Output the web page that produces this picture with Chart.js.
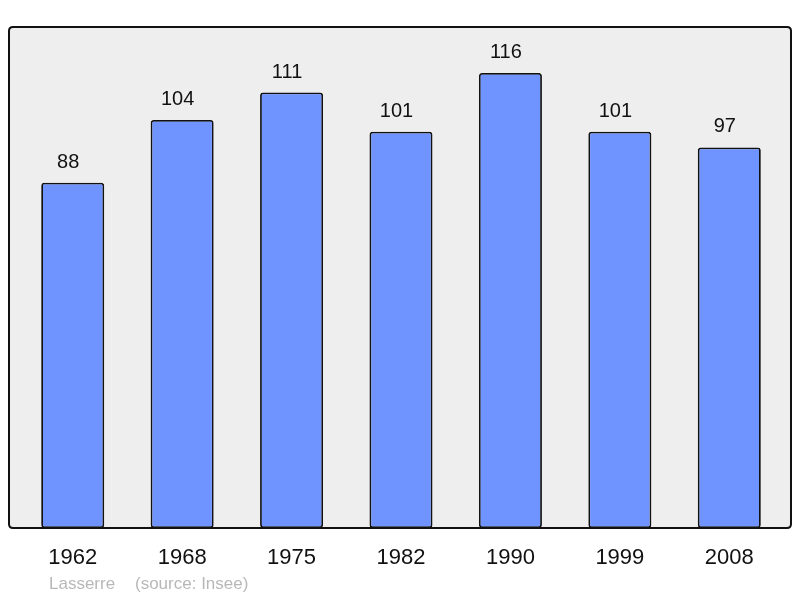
<!DOCTYPE html>
<html>
<head>
<meta charset="utf-8">
<script src="https://cdn.jsdelivr.net/npm/chart.js@4/dist/chart.umd.min.js"></script>
<style>
  html, body { margin: 0; padding: 0; background: #fff; }
  #wrap { width: 800px; height: 598px; }
</style>
</head>
<body>
<div id="wrap"><canvas id="popChart" width="800" height="598"></canvas></div>
<script>
// Données : population par recensement
const years = ['1962', '1968', '1975', '1982', '1990', '1999', '2008'];
const population = [88, 104, 111, 101, 116, 101, 97];
const commune = 'Lasserre';
const source = '(source: Insee)';

const FONT = '"Liberation Sans", Arial, sans-serif';

// Fond gris et cadre arrondi
const framePlugin = {
    id: 'frame',
    roundRect: function(ctx, x, y, w, h, r) {
        ctx.beginPath();
        ctx.moveTo(x + r, y);
        ctx.lineTo(x + w - r, y);
        ctx.quadraticCurveTo(x + w, y, x + w, y + r);
        ctx.lineTo(x + w, y + h - r);
        ctx.quadraticCurveTo(x + w, y + h, x + w - r, y + h);
        ctx.lineTo(x + r, y + h);
        ctx.quadraticCurveTo(x, y + h, x, y + h - r);
        ctx.lineTo(x, y + r);
        ctx.quadraticCurveTo(x, y, x + r, y);
        ctx.closePath();
    },
    beforeDatasetsDraw: function(chart) {
        const ctx = chart.ctx;
        ctx.save();
        this.roundRect(ctx, 9, 27, 782, 501, 4);
        ctx.fillStyle = '#eeeeee';
        ctx.fill();
        ctx.restore();
    },
    afterDatasetsDraw: function(chart) {
        const ctx = chart.ctx;
        ctx.save();
        this.roundRect(ctx, 9, 27, 782, 501, 4);
        ctx.lineWidth = 2;
        ctx.strokeStyle = '#111';
        ctx.stroke();
        ctx.restore();
    }
};

// Valeurs au-dessus des barres, années et source en dessous
const labelsPlugin = {
    id: 'labels',
    afterDraw: function(chart) {
        const ctx = chart.ctx;
        const meta = chart.getDatasetMeta(0);
        const xScale = chart.scales.x;
        ctx.save();
        ctx.textAlign = 'center';
        ctx.textBaseline = 'alphabetic';
        ctx.fillStyle = '#111';
        ctx.font = '20px ' + FONT;
        meta.data.forEach((bar, i) => {
            ctx.fillText(String(population[i]), bar.x - 4.5, bar.y - 15);
        });
        ctx.font = '22px ' + FONT;
        years.forEach((y, i) => {
            ctx.fillText(y, xScale.getPixelForValue(i), 564);
        });
        ctx.textAlign = 'left';
        ctx.fillStyle = '#b8b8b8';
        ctx.font = '17px ' + FONT;
        ctx.fillText(commune, 49, 589);
        ctx.fillText(source, 135, 589);
        ctx.restore();
    }
};

new Chart(document.getElementById('popChart').getContext('2d'), {
    type: 'bar',
    data: {
        labels: years,
        datasets: [{
            data: population,
            backgroundColor: '#7094ff',
            borderColor: '#111',
            borderWidth: 1.8,
            borderRadius: 3,
            borderSkipped: false,
            barPercentage: 0.576,
            categoryPercentage: 1
        }]
    },
    options: {
        responsive: false,
        devicePixelRatio: 1,
        animation: false,
        layout: {
            padding: { left: 18, right: 16, top: 27, bottom: 70 }
        },
        plugins: {
            legend: { display: false },
            tooltip: { enabled: false }
        },
        scales: {
            x: { display: false },
            y: { display: false, min: 0, max: 127.7 }
        }
    },
    plugins: [framePlugin, labelsPlugin]
});
</script>
</body>
</html>
